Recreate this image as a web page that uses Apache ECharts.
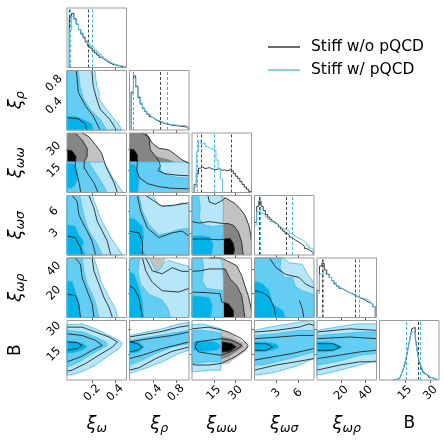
<!DOCTYPE html>
<html><head><meta charset="utf-8">
<script src="https://cdn.jsdelivr.net/npm/echarts@6/dist/echarts.min.js"></script>
<style>html,body{margin:0;padding:0;background:#fff}#c{width:444px;height:440px}</style>
</head><body><div id="c"></div><script>
// ---------- parameters ----------
const paramNames = ['{x|ξ}{s|ω}','{x|ξ}{s|ρ}','{x|ξ}{s|ωω}','{x|ξ}{s|ωσ}','{x|ξ}{s|ωρ}','{b|B}'];
const paramMin = [-0.02,-0.03,0,0,0,0];
const paramMax = [0.5,1.03,41,8.2,49,35];
const paramTicks = [[0.2,0.4],[0.4,0.8],[15,30],[3,6],[20,40],[15,30]];
const legendNames = ['Stiff w/o pQCD','Stiff w/ pQCD'];

// ---------- 1D histograms (bin edges, heights) ----------
const edges_w = [0,0.02,0.04,0.06,0.08,0.10,0.12,0.14,0.16,0.18,0.20,0.22,0.24,0.26,0.28,0.30,0.32,0.34,0.36,0.38,0.40,0.42,0.44,0.46,0.48,0.50];
const hist_w_black = [0.92,1.0,0.9,0.8,0.7,0.62,0.55,0.47,0.4,0.36,0.31,0.27,0.23,0.19,0.16,0.13,0.10,0.08,0.06,0.05,0.04,0.03,0.02,0.015,0.01];
const hist_w_blue  = [0.7,0.95,0.88,0.8,0.7,0.64,0.57,0.5,0.44,0.39,0.36,0.32,0.28,0.24,0.2,0.16,0.13,0.1,0.08,0.06,0.05,0.04,0.03,0.02,0.015];
const edges_rho = [0,0.04,0.08,0.12,0.16,0.2,0.24,0.28,0.32,0.36,0.4,0.44,0.48,0.52,0.56,0.6,0.64,0.68,0.72,0.76,0.8,0.84,0.88,0.92,0.96,1.0,1.03];
const hist_rho_black = [0.7,1.0,0.8,0.6,0.48,0.4,0.34,0.29,0.25,0.22,0.19,0.17,0.15,0.14,0.12,0.11,0.1,0.09,0.085,0.08,0.075,0.07,0.065,0.06,0.055,0.05];
const hist_rho_blue  = [0.65,0.95,0.82,0.62,0.5,0.41,0.35,0.3,0.27,0.23,0.2,0.18,0.17,0.15,0.13,0.12,0.11,0.1,0.1,0.09,0.09,0.08,0.085,0.08,0.07,0.06];
const edges_ww = [0,1.5,3,4.5,6,7.5,9,10.5,12,13.5,15,16.5,18,19.5,21,22.5,24,25.5,27,28.5,30,31.5,33,34.5,36,37.5,39,40.5];
const hist_ww_black = [0,0.15,0.35,0.45,0.47,0.44,0.45,0.46,0.44,0.43,0.42,0.44,0.43,0.41,0.42,0.4,0.41,0.44,0.4,0.35,0.3,0.26,0.2,0.15,0.1,0.06,0.02];
const hist_ww_blue  = [0,0.1,0.75,0.95,0.9,0.92,0.85,0.83,0.8,0.82,0.78,0.6,0.45,0.25];
const edges_ws = [0,0.3,0.6,0.9,1.2,1.5,1.8,2.1,2.4,2.7,3.0,3.3,3.6,3.9,4.2,4.5,4.8,5.1,5.4,5.7,6.0,6.3,6.6,6.9,7.2,7.5,7.8,8.1];
const hist_ws_black = [0.6,0.9,1.0,0.9,0.82,0.75,0.7,0.66,0.62,0.59,0.56,0.52,0.48,0.44,0.4,0.37,0.33,0.3,0.27,0.25,0.22,0.19,0.16,0.12,0.1,0.07,0.04];
const hist_ws_blue  = [0.55,0.8,0.82,0.77,0.74,0.7,0.66,0.62,0.6,0.57,0.55,0.52,0.5,0.48,0.46,0.44,0.4,0.37,0.34,0.32,0.3,0.28,0.25,0.22,0.18,0.13,0.1];
const edges_wr = [0,2,4,6,8,10,12,14,16,18,20,22,24,26,28,30,32,34,36,38,40,42,44,46,48];
const hist_wr_black = [0.5,0.95,1.0,0.88,0.8,0.74,0.68,0.62,0.58,0.54,0.52,0.49,0.47,0.45,0.43,0.41,0.38,0.36,0.34,0.32,0.29,0.27,0.24,0.2];
const hist_wr_blue  = [0.45,0.8,0.82,0.8,0.78,0.74,0.68,0.64,0.59,0.55,0.52,0.5,0.47,0.45,0.42,0.4,0.38,0.37,0.36,0.34,0.33,0.3,0.26,0.2];
const edges_B = [8,9,10,11,12,13,14,15,16,17,18,19,20,21,22,23,24,25,26,27,28,29,30,31,32,33,34];
const hist_B_black = [0.005,0.01,0.02,0.03,0.06,0.12,0.2,0.3,0.45,0.62,0.78,0.95,0.97,0.8,0.6,0.36,0.28,0.18,0.13,0.1,0.07,0.05,0.04,0.03,0.02,0.01];
const hist_B_blue  = [0.01,0.015,0.03,0.04,0.07,0.13,0.22,0.33,0.46,0.62,0.8,0.9,0.87,0.75,0.55,0.4,0.3,0.22,0.16,0.12,0.09,0.07,0.05,0.035,0.02,0.01];

// quantile (dashed) lines
const q_w_black = [0.003,0.165],  q_w_blue = [0.009,0.199];
const q_rho_black = [0.035,0.523], q_rho_blue = [0.04,0.64];
const q_ww_black = [6.6,27.3],    q_ww_blue = [3.9,15.5];
const q_ws_black = [0.59,4.33],   q_ws_blue = [0.78,5.23];
const q_wr_black = [4.3,31.9],    q_wr_blue = [5.1,34.5];
const q_B_black = [15.5,22.8],    q_B_blue = [15.6,24.2];

// ---------- 2D contours: [outer, middle, inner] ----------
// x = xi_omega, y = xi_rho
const blue_w_rho = [
 [[-0.02,-0.03],[-0.02,1.03],[0.224,1.03],[0.24,0.75],[0.265,0.62],[0.255,0.55],[0.297,0.41],[0.37,0.22],[0.427,0.08],[0.458,-0.03]],
 [[-0.02,-0.03],[-0.02,1.03],[0.079,1.03],[0.094,0.75],[0.126,0.52],[0.183,0.34],[0.27,0.16],[0.328,-0.03]],
 [[-0.02,-0.03],[-0.02,0.22],[0.068,0.21],[0.141,0.14],[0.198,0.076],[0.209,-0.03]]];
const gray_w_rho = [];
const black_w_rho = [
 [[0.198,1.03],[0.209,0.75],[0.24,0.52],[0.27,0.34],[0.354,0.16],[0.412,-0.03]],
 [[0.06,1.03],[0.068,0.9],[0.079,0.64],[0.141,0.4],[0.209,0.22],[0.27,-0.03]],
 [[-0.02,0.19],[0.079,0.17],[0.141,0.076],[0.152,-0.03]]];
// x = xi_omega, y = xi_omegaomega
const gray_w_ww = [
 [[-0.02,21],[-0.02,41],[0.112,41],[0.171,38.5],[0.23,32.8],[0.283,27.1],[0.303,22],[0.29,21]],
 [[-0.02,21],[-0.02,41],[0.053,41],[0.112,36.2],[0.156,30.5],[0.156,24.8],[0.13,21]],
 [[-0.02,21],[-0.02,29.4],[0.024,28.7],[0.059,24.8],[0.055,21]]];
const blue_w_ww = [
 [[-0.02,0],[-0.02,21],[0.3,21],[0.318,19],[0.35,14.6],[0.38,10],[0.42,5.5],[0.47,0]],
 [[-0.02,0],[-0.02,21],[0.17,21],[0.2,17],[0.24,12],[0.29,6],[0.33,0]],
 [[-0.02,3],[-0.02,20],[0.04,20],[0.07,16],[0.075,10],[0.05,5],[0.02,3]]];
const black_w_ww = [
 [[0.112,41],[0.171,38.5],[0.23,32.8],[0.283,27.1],[0.303,22],[0.32,18],[0.35,13],[0.39,7],[0.42,0]],
 [[0.053,41],[0.112,36.2],[0.156,30.5],[0.156,24.8],[0.13,21],[0.13,17],[0.17,12],[0.22,6],[0.25,0]],
 [[-0.02,29.4],[0.024,28.7],[0.059,24.8],[0.055,21],[0.05,17],[0.07,12],[0.09,5],[0.1,0]]];
// x = xi_rho, y = xi_omegaomega
const gray_rho_ww = [
 [[-0.03,21],[-0.03,41],[0.26,41],[0.3,39.6],[0.376,33.9],[0.494,30.5],[0.67,29.4],[0.79,26],[0.906,22.5],[1.03,21]],
 [[-0.03,21],[-0.03,41],[0.2,41],[0.317,38],[0.34,29.4],[0.435,25],[0.67,22.8],[0.79,21]],
 [[-0.03,21],[-0.03,30],[0.05,29.5],[0.11,26],[0.11,21]]];
const blue_rho_ww = [
 [[-0.03,0],[-0.03,21],[0.5,21],[0.6,20.5],[0.8,21],[1.03,21],[1.03,0]],
 [[-0.03,0],[-0.03,21],[0.45,21],[0.5,18],[0.55,14],[0.65,12],[0.8,10.5],[1.03,10],[1.03,0]],
 [[-0.03,0],[-0.03,19.5],[0.06,19.5],[0.12,15],[0.14,8],[0.12,0]]];
const black_rho_ww = [
 [[0.26,41],[0.376,33.9],[0.494,30.5],[0.67,29.4],[0.79,26],[0.906,22.5],[1.03,20]],
 [[0.2,41],[0.317,38],[0.34,29.4],[0.435,25],[0.5,21],[0.52,18],[0.48,15],[0.6,13],[0.8,12],[1.03,11.5]],
 [[-0.03,30],[0.05,29.5],[0.11,26],[0.11,21],[0.1,15],[0.15,10],[0.3,6],[0.5,4],[0.7,3],[1.03,2.5]]];
// x = xi_omega, y = xi_omegasigma
const gray_w_ws = [];
const blue_w_ws = [
 [[-0.02,0],[-0.02,8.2],[0.2,8.2],[0.23,6.9],[0.27,5.1],[0.318,3.7],[0.362,2.4],[0.421,1.0],[0.465,0]],
 [[-0.02,0],[-0.02,8.2],[0.09,8.2],[0.112,6.5],[0.142,4.6],[0.171,3.3],[0.23,1.9],[0.259,1.0],[0.288,0]],
 [[-0.02,0],[-0.02,4.2],[0.053,4.0],[0.083,2.8],[0.127,1.9],[0.112,1.0],[0.142,0]]];
const black_w_ws = [
 [[0.171,8.2],[0.215,6.5],[0.245,4.6],[0.288,3.3],[0.332,1.9],[0.362,0]],
 [[0.024,8.2],[0.068,7.4],[0.083,5.6],[0.112,4.6],[0.156,3.3],[0.2,1.9],[0.23,0]],
 [[-0.02,2.6],[0.053,2.4],[0.098,1.0],[0.112,0]]];
// x = xi_rho, y = xi_omegasigma
const gray_rho_ws = [];
const blue_rho_ws = [
 [[-0.03,0],[-0.03,8.2],[0.376,8.2],[0.494,6.9],[0.73,6.7],[0.906,7.2],[1.03,6.9],[1.03,0]],
 [[-0.03,0],[-0.03,8.2],[0.14,8.2],[0.2,6.0],[0.317,4.2],[0.494,2.8],[0.67,3.05],[0.847,3.5],[1.03,3.7],[1.03,0]],
 [[-0.03,0],[-0.03,5.1],[0.052,5.0],[0.2,4.0],[0.23,2.4],[0.17,1.0],[0.26,0]]];
const black_rho_ws = [
 [[0.26,8.2],[0.376,7.6],[0.553,6.7],[0.79,6.9],[1.03,7.2]],
 [[0.11,8.2],[0.17,6.0],[0.29,3.7],[0.494,2.4],[0.73,3.05],[0.906,3.3],[1.03,2.6]],
 [[-0.03,3.3],[0.14,3.05],[0.2,1.9],[0.2,0]]];
// x = xi_omegaomega, y = xi_omegasigma
const gray_ww_ws = [
 [[0,0],[0,8.2],[21,8.2],[22.8,7.9],[26.2,7.5],[29.6,7.1],[33,6.4],[36.4,5.5],[39.2,4.1],[40.5,2.7],[41,1.8],[41,0]],
 [[0,0],[0,4.4],[21.6,4.33],[25,4.33],[28.5,4.1],[31.9,3.2],[34.2,1.8],[35.3,0]],
 [[0,0],[0,2.3],[22.8,2.2],[26.2,2.3],[28.5,1.6],[29.2,0.7],[28.5,0]]];
const blue_ww_ws = [
 [[0,0],[0,8.2],[20,8.2],[21.6,7.5],[21.6,0]],
 [[0,0],[0,8.2],[4.5,8.2],[5.7,6.5],[5,5],[8,4.2],[14,3.9],[21.6,4.1],[21.6,0]],
 [[0,0],[0,2.6],[6,2.7],[12,2.5],[14.8,1.5],[13.5,0]]];
const black_ww_ws = [
 [[11,8.2],[12,7.3],[16,7.0],[21.6,7.6],[22.8,7.9],[26.2,7.5],[29.6,7.1],[33,6.4],[36.4,5.5],[39.2,4.1],[40.5,2.7],[41,1.8]],
 [[0,4.6],[5,4.4],[12,4.6],[21.6,4.33],[25,4.33],[28.5,4.1],[31.9,3.2],[34.2,1.8],[35.3,0]],
 [[0,2.2],[10,2.2],[19,2.1],[22.8,2.2],[26.2,2.3],[28.5,1.6],[29.2,0.7],[28.5,0]]];
// x = xi_omega, y = xi_omegarho
const gray_w_wr = [];
const blue_w_wr = [
 [[-0.02,0],[-0.02,49],[0.215,49],[0.245,41],[0.274,30],[0.318,22],[0.362,13.9],[0.406,7],[0.421,0]],
 [[-0.02,0],[-0.02,49],[0.112,49],[0.127,38.4],[0.156,27.5],[0.2,19.3],[0.23,11.2],[0.259,0]],
 [[-0.02,0],[-0.02,30],[0.024,30],[0.053,22],[0.083,13.9],[0.098,0]]];
const black_w_wr = [
 [[0.2,49],[0.215,38.4],[0.259,27.5],[0.303,16.6],[0.347,8.4],[0.377,0]],
 [[0.053,49],[0.098,43.8],[0.112,32.9],[0.156,22],[0.2,11.2],[0.215,0]],
 [[-0.02,19.3],[0.053,18],[0.083,11.2],[0.098,0]]];
// x = xi_rho, y = xi_omegarho
const gray_rho_wr = [
 [[0.33,49],[0.376,44],[0.45,37.5],[0.52,40],[0.58,45],[0.62,49]]];
const blue_rho_wr = [
 [[-0.03,0],[-0.03,49],[0.33,49],[0.376,44],[0.45,37.5],[0.52,40],[0.58,45],[0.65,47],[0.8,45],[1.03,42],[1.03,0]],
 [[-0.03,0],[-0.03,49],[0.15,49],[0.12,38],[0.17,27.5],[0.32,19],[0.55,14.5],[0.65,8],[0.7,0]],
 [[-0.03,0],[-0.03,38],[0.052,36],[0.14,25],[0.2,14],[0.23,0]]];
const black_rho_wr = [
 [[0.26,49],[0.376,38.4],[0.553,36],[0.73,41],[0.906,38],[1.03,38]],
 [[0.2,49],[0.26,38.4],[0.376,29],[0.553,22],[0.847,21],[1.03,24]],
 [[-0.03,26],[0.052,24],[0.14,16],[0.2,0]]];
// x = xi_omegaomega, y = xi_omegarho
const gray_ww_wr = [
 [[0,0],[0,49],[20,49],[23.9,46.8],[30.8,42.7],[34.2,34.6],[36.4,26.4],[38.7,18.2],[40.3,10.1],[41,5],[41,0]],
 [[0,0],[0,40],[22.8,40],[26.2,31.9],[30.8,26.4],[34.2,18.2],[35.3,10.1],[36.4,0]],
 [[0,0],[0,12.8],[20.5,12.8],[25,11.4],[28.5,6],[28.5,0]]];
const blue_ww_wr = [
 [[0,0],[0,49],[19,49],[21,45],[21.6,30],[21.6,0]],
 [[0,0],[0,49],[7,49],[8,40],[7,30],[10,24],[21.6,22],[21.6,0]],
 [[0,0],[0,18],[6,17.5],[12,16.5],[14,10],[13,0]]];
const black_ww_wr = [
 [[12,49],[20,49],[23.9,46.8],[30.8,42.7],[34.2,34.6],[36.4,26.4],[38.7,18.2],[40.3,10.1],[41,5]],
 [[0,38],[6,38.5],[12,40],[22.8,40],[26.2,31.9],[30.8,26.4],[34.2,18.2],[35.3,10.1],[36.4,0]],
 [[0,21],[10,20.5],[19.4,19.6],[20.5,12.8],[25,11.4],[28.5,6],[28.5,0]]];
// x = xi_omegasigma, y = xi_omegarho
const gray_ws_wr = [];
const blue_ws_wr = [
 [[0,0],[0,49],[4.0,49],[4.8,45],[6.6,43.8],[7.3,35.6],[8.0,30],[8.2,25],[8.2,0]],
 [[0,0],[0,49],[3.7,49],[3.5,41],[4.1,33],[5.2,33],[5.7,25],[6.6,22],[8.2,19],[8.2,0]],
 [[0,0],[0,30],[1.1,28],[2.05,22],[2.5,11],[3.9,5.7],[4.3,0]]];
const black_ws_wr = [
 [[2.05,49],[2.96,41],[4.3,35.5],[6.15,33],[7.06,27.5],[7.9,25],[8.2,24.5]],
 [[0,22],[1.14,20.5],[2.05,16.6],[2.7,8.4],[2.96,0]],
 [[6.2,14],[6.6,7],[6.8,0]]];
// x = xi_omega, y = B
const gray_w_B = [];
const blue_w_B = [
 [[-0.02,32.5],[0.112,33],[0.23,30.1],[0.347,26.2],[0.435,23.3],[0.465,21.4],[0.435,18.5],[0.347,14.6],[0.23,8.8],[0.112,4.9],[0.024,3.3],[-0.02,2.9]],
 [[-0.02,29.2],[0.112,28.2],[0.23,25.3],[0.318,22.4],[0.333,20.4],[0.288,18.5],[0.2,15.6],[0.112,11.7],[0.024,8.8],[-0.02,7.8]],
 [[-0.02,23.3],[0.053,22.7],[0.127,21.4],[0.156,19.4],[0.112,17.5],[0.039,16.1],[-0.02,15.6]]];
const black_w_B = [
 [[-0.02,31.1],[0.112,31.1],[0.23,28.2],[0.347,25.3],[0.421,22.4],[0.377,19.4],[0.259,14.6],[0.142,9.7],[0.024,5.8],[-0.02,5.2]],
 [[-0.02,27.2],[0.112,26.2],[0.23,23.3],[0.288,20.4],[0.2,17.5],[0.098,13.6],[-0.02,10.7]],
 [[-0.02,22.4],[0.068,22.0],[0.112,20.4],[0.068,18.5],[-0.02,17.5]]];
// x = xi_rho, y = B
const gray_rho_B = [];
const blue_rho_B = [
 [[-0.03,26.2],[0.26,28.2],[0.553,30.1],[0.847,33],[1.03,34],[1.03,17.5],[0.847,15.6],[0.553,10.7],[0.26,7],[-0.03,3.9]],
 [[-0.03,23.3],[0.317,25.3],[0.67,27.2],[1.03,29.2],[1.03,21.4],[0.73,19.4],[0.435,15.6],[0.2,11.7],[-0.03,8.8]],
 [[-0.03,23.3],[0.14,22.4],[0.23,19.4],[0.14,16.5],[-0.03,15.6]]];
const black_rho_B = [
 [[-0.03,25.3],[0.553,28.6],[0.847,31.1],[1.03,32]],
 [[1.03,19.4],[0.73,16.9],[0.435,12.6],[0.14,7.2],[-0.03,5.8]],
 [[-0.03,22.4],[0.317,24.3],[0.73,26.2],[1.03,28.2]],
 [[1.03,22.4],[0.553,18.5],[0.2,14.6],[-0.03,12.6]],
 [[-0.03,22.4],[0.11,21.4],[0.2,19.4],[0.11,17.5],[-0.03,16.5]]];
// x = xi_omegaomega, y = B
const gray_ww_B = [
 [[18,29.2],[25,28.2],[31.9,24.3],[37.6,21.4],[38.7,19.4],[36.4,16.5],[29.6,12.6],[25,9.7],[18,8.8]],
 [[18,26.2],[27.3,24.3],[34.2,21.4],[35.3,19.4],[31.9,17.5],[25,13.6],[18,11.7]],
 [[20.5,22.4],[27.3,21.4],[30.5,19.4],[25.9,16.9],[20.5,16.5]]];
const blue_ww_B = [
 [[0,32.5],[6.8,33],[15.9,31.1],[19.9,30.1],[19.9,5.8],[11.4,5.8],[2.3,4.9],[0,4.9]],
 [[0,29.2],[6.8,29.2],[15.9,28.2],[19.9,27.2],[19.9,10.7],[11.4,10.7],[2.3,9.7],[0,9.7]],
 [[1.1,22.4],[6.8,23.2],[15.9,22.4],[18.2,21.4],[19.9,19.4],[17,17.5],[6.8,16.5],[1.1,17.5]]];
const black_ww_B = [
 [[0,30.1],[11.4,31.1],[19.9,29.5],[25,28.2],[34.2,24.3],[38.7,20.4],[37.6,18.5],[29.6,13.6],[19.9,9.7],[11.4,8.8],[2.3,8.8],[0,9.5]],
 [[3.4,22.4],[11.4,23.3],[19.9,24.3],[27.3,23.3],[34.2,20.4],[29.6,17.5],[19.9,14.6],[11.4,15.6],[4.5,16.5],[2.3,19.4],[3.4,22.4]],
 [[20.5,22.4],[27.3,21.4],[30.5,19.4],[25.9,16.9],[20.5,16.5]]];
// x = xi_omegasigma, y = B
const gray_ws_B = [];
const blue_ws_B = [
 [[0,29.2],[2.05,31.1],[4.78,33],[7.5,35],[8.2,35],[8.2,12.6],[6.15,8.8],[3.87,5.8],[2.05,3.9],[0,2.9]],
 [[0,26.2],[2.96,27.2],[6.15,29.2],[8.2,29.2],[8.2,16.5],[5.7,13.6],[2.96,10.7],[1.14,8.8],[0,8.8]],
 [[0,22.4],[1.6,22.4],[2.96,21.4],[3.4,19.4],[2.5,17.5],[1.14,16.5],[0,16.5]]];
const black_ws_B = [
 [[0,28.2],[2.96,29.2],[6.15,31.1],[7.5,33],[8.2,32.1]],
 [[0,5.8],[2.96,8.8],[5.7,10.7],[8.2,12.6]],
 [[0,24.3],[3.4,25.3],[6.15,26.2],[8.2,26.2]],
 [[0,11.7],[2.5,13.6],[5.2,15.6],[8.2,18.5]],
 [[0,21.4],[1.6,21.4],[2.5,19.4],[1.6,17.5],[0,17.5]]];
// x = xi_omegarho, y = B
const gray_wr_B = [];
const blue_wr_B = [
 [[0,29.2],[16,31.1],[32.4,33],[49,33],[49,11.7],[35,8.8],[18.8,5.8],[7.9,3.9],[0,2.9]],
 [[0,26.2],[18.8,27.2],[37.8,28.2],[49,28.2],[49,15.6],[35,14.6],[21.5,11.7],[7.9,9.7],[0,8.8]],
 [[0,22.4],[10.6,22.4],[18.8,20.4],[21.5,19.4],[16,17.5],[7.9,16.5],[0,16.5]]];
const black_wr_B = [
 [[0,28.2],[27,30.1],[49,29.2]],
 [[0,5.8],[18.8,8.8],[35,10.7],[49,10.7]],
 [[0,24.3],[27,25.3],[49,24.3]],
 [[0,12.6],[18.8,14.6],[35,16.5],[49,17.5]],
 [[0,21.4],[13.3,21.4],[18.8,19.4],[13.3,17.5],[0,17.5]]];

// ---------- styling ----------
const colBlack = '#3a3a3a', colBlue = '#55c6ef';
const blueFill = ['#b7e6f8','#64cdf3','#00b3e9'];
const grayFill = ['#c2c2c2','#858585','#050505'];
const blueEdge = '#3dbfee';
const FONT = 'DejaVu Sans';
const colLeft = [67,129.5,192,254.5,317,379.5];
const rowTop = [8,70.5,133,195.5,258,320.5];
const SIZE = 59.5;

const diag = [
 {e:edges_w, k:hist_w_black, b:hist_w_blue, qk:q_w_black, qb:q_w_blue},
 {e:edges_rho, k:hist_rho_black, b:hist_rho_blue, qk:q_rho_black, qb:q_rho_blue},
 {e:edges_ww, k:hist_ww_black, b:hist_ww_blue, qk:q_ww_black, qb:q_ww_blue},
 {e:edges_ws, k:hist_ws_black, b:hist_ws_blue, qk:q_ws_black, qb:q_ws_blue},
 {e:edges_wr, k:hist_wr_black, b:hist_wr_blue, qk:q_wr_black, qb:q_wr_blue},
 {e:edges_B, k:hist_B_black, b:hist_B_blue, qk:q_B_black, qb:q_B_blue}];
const panels = {
 '1,0':[gray_w_rho,blue_w_rho,black_w_rho],
 '2,0':[gray_w_ww,blue_w_ww,black_w_ww], '2,1':[gray_rho_ww,blue_rho_ww,black_rho_ww],
 '3,0':[gray_w_ws,blue_w_ws,black_w_ws], '3,1':[gray_rho_ws,blue_rho_ws,black_rho_ws], '3,2':[gray_ww_ws,blue_ww_ws,black_ww_ws],
 '4,0':[gray_w_wr,blue_w_wr,black_w_wr], '4,1':[gray_rho_wr,blue_rho_wr,black_rho_wr], '4,2':[gray_ww_wr,blue_ww_wr,black_ww_wr], '4,3':[gray_ws_wr,blue_ws_wr,black_ws_wr],
 '5,0':[gray_w_B,blue_w_B,black_w_B], '5,1':[gray_rho_B,blue_rho_B,black_rho_B], '5,2':[gray_ww_B,blue_ww_B,black_ww_B], '5,3':[gray_ws_B,blue_ws_B,black_ws_B], '5,4':[gray_wr_B,blue_wr_B,black_wr_B]};

const richName = {
  x:{fontSize:18, fontStyle:'italic', fontFamily:FONT, color:'#000', lineHeight:22, verticalAlign:'middle'},
  s:{fontSize:12.5, fontStyle:'italic', fontFamily:FONT, color:'#000', lineHeight:11, verticalAlign:'bottom'},
  b:{fontSize:17, fontFamily:FONT, color:'#000', lineHeight:22}
};
function tickLabel(show){
  return {show, rotate:45, align:'center', verticalAlign:'middle', margin:13, fontSize:11.5, fontFamily:FONT, color:'#000'};
}

const grids=[], xAxes=[], yAxes=[], series=[];
function histData(e, h){
  const d=[[e[0],0]];
  for(let i=0;i<h.length;i++) d.push([e[i],h[i]]);
  d.push([e[h.length],h[h.length-1]]); d.push([e[h.length],0]);
  return d;
}
function polySeries(g, polys, fills, stroke, z){
  return {type:'custom', xAxisIndex:g, yAxisIndex:g, z, silent:true, animation:false,
    data: polys.map(p=>p[0]),
    renderItem:(params, api)=>{
      const poly = polys[params.dataIndex];
      return {type:'polygon', shape:{points: poly.map(pt=>api.coord(pt))},
        style:{fill: fills[params.dataIndex], stroke: stroke || 'none', lineWidth: stroke?0.8:0}};
    }};
}
function lineSeries(g, lines, color, z){
  return {type:'custom', xAxisIndex:g, yAxisIndex:g, z, silent:true, animation:false,
    data: lines.map(p=>p[0]),
    renderItem:(params, api)=>{
      const ln = lines[params.dataIndex];
      return {type:'polyline', shape:{points: ln.map(pt=>api.coord(pt))},
        style:{fill:'none', stroke:color, lineWidth:0.9}};
    }};
}

for(let r=0;r<6;r++){
  for(let c=0;c<=r;c++){
    const g = grids.length;
    grids.push({left:colLeft[c], top:rowTop[r], width:SIZE, height:SIZE, show:true, z:10,
      borderColor:'#9a9a9a', borderWidth:1, backgroundColor:'transparent'});
    xAxes.push({gridIndex:g, type:'value', min:paramMin[c], max:paramMax[c],
      axisLine:{show:false}, splitLine:{show:false},
      axisTick:{show:true, length:3, lineStyle:{color:'#666'}, customValues:paramTicks[c]},
      axisLabel:Object.assign(tickLabel(r===5),{customValues:paramTicks[c]}),
      name: r===5 ? paramNames[c] : '', nameLocation:'middle', nameGap:33,
      nameTextStyle:{rich:richName}});
    if(r===c){
      yAxes.push({gridIndex:g, type:'value', min:0, max:1.1, show:false});
      const d = diag[r];
      series.push({type:'line', name:legendNames[0], xAxisIndex:g, yAxisIndex:g, step:'end', z:5,
        data:histData(d.e,d.k), showSymbol:false, symbol:'none', color:colBlack,
        lineStyle:{color:colBlack, width:1}, animation:false, clip:true,
        markLine:{symbol:'none', silent:true, label:{show:false}, animation:false,
          lineStyle:{type:[3,2], color:'#444', width:1}, data:d.qk.map(v=>({xAxis:v}))}});
      series.push({type:'line', name:legendNames[1], xAxisIndex:g, yAxisIndex:g, step:'end', z:6,
        data:histData(d.e,d.b), showSymbol:false, symbol:'none', color:colBlue,
        lineStyle:{color:colBlue, width:1}, animation:false, clip:true,
        markLine:{symbol:'none', silent:true, label:{show:false}, animation:false,
          lineStyle:{type:[3,2], color:'#2fbcef', width:1}, data:d.qb.map(v=>({xAxis:v}))}});
    } else {
      yAxes.push({gridIndex:g, type:'value', min:paramMin[r], max:paramMax[r],
        axisLine:{show:false}, splitLine:{show:false},
        axisTick:{show:true, length:3, lineStyle:{color:'#666'}, customValues:paramTicks[r]},
        axisLabel:Object.assign(tickLabel(c===0),{customValues:paramTicks[r]}),
        name: c===0 ? paramNames[r] : '', nameLocation:'middle', nameGap:40, nameRotate:90,
        nameTextStyle:{rich:richName}});
      const [gray, blue, black] = panels[r+','+c];
      if(gray.length) series.push(polySeries(g, gray, grayFill, null, 2));
      series.push(polySeries(g, blue, blueFill, blueEdge, 3));
      series.push(lineSeries(g, black, '#262626', 4));
    }
  }
}

const chart = echarts.init(document.getElementById('c'), null, {renderer:'canvas'});
chart.setOption({
  animation:false,
  backgroundColor:'#fff',
  grid:grids, xAxis:xAxes, yAxis:yAxes, series,
  legend:{data:legendNames, orient:'vertical', left:263, top:33, icon:'rect',
    itemWidth:32, itemHeight:1.5, itemGap:5,
    textStyle:{fontSize:15.5, fontFamily:FONT, color:'#000', lineHeight:18, padding:[0,0,0,6]}}
});
</script></body></html>
